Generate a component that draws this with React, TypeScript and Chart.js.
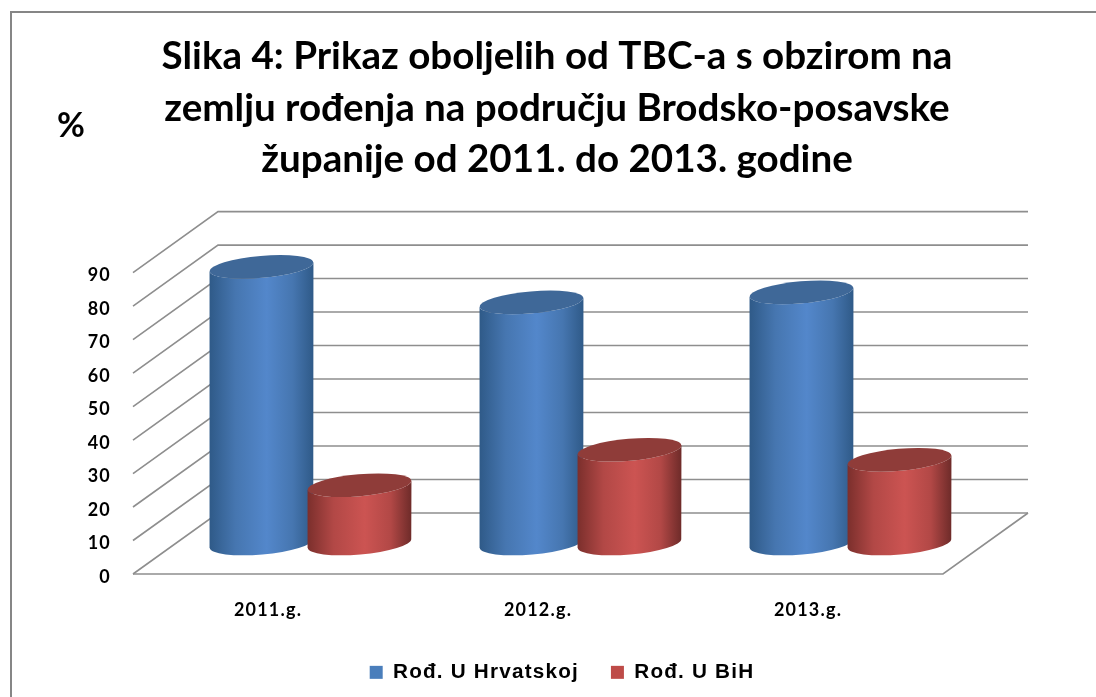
import React, { useEffect, useRef } from "react";
import { Chart, registerables } from "chart.js";

Chart.register(...registerables);

const titleLines = [
  "Slika 4: Prikaz oboljelih od TBC-a s obzirom na",
  "zemlju rođenja na području Brodsko-posavske",
  "županije od 2011. do 2013. godine",
];
const yAxisCaption = "%";
const categories = ["2011.g.", "2012.g.", "2013.g."];
const seriesHrvatska = [82.6, 72, 75];
const seriesBiH = [17.4, 28, 25];
const seriesNames = ["Rođ. U Hrvatskoj", "Rođ. U BiH"];

const DEPTH_X = 85;
const DEPTH_Y = -61;
const GRID = "#8e8e8e";
const LABEL_FONT = "Lato";
const LEGEND_FONT = "'Liberation Sans'";
const SPACING = "1.2px";

const shades = [
  { edgeL: "#2f5a88", near: "#4676b0", mid: "#5387cb", edgeR: "#2f5a88", top: "#3f6898" },
  { edgeL: "#7b2f2c", near: "#b24846", mid: "#cc5452", edgeR: "#6e2b29", top: "#8f3c39" },
];

function cylinder(ctx: CanvasRenderingContext2D, cx: number, yTop: number, yBase: number, rx: number, c: typeof shades[0]) {
  const ry = 11;
  const rot = -0.087;
  const dy = Math.sin(rot) * rx;
  const g = ctx.createLinearGradient(cx - rx, 0, cx + rx, 0);
  g.addColorStop(0, c.edgeL);
  g.addColorStop(0.25, c.near);
  g.addColorStop(0.55, c.mid);
  g.addColorStop(0.8, c.near);
  g.addColorStop(1, c.edgeR);
  ctx.beginPath();
  ctx.moveTo(cx - rx, yTop - dy);
  ctx.lineTo(cx - rx, yBase - dy);
  ctx.ellipse(cx, yBase, rx, ry, rot, Math.PI, 0, true);
  ctx.lineTo(cx + rx, yTop + dy);
  ctx.ellipse(cx, yTop, rx, ry, rot, 0, Math.PI, false);
  ctx.closePath();
  ctx.fillStyle = g;
  ctx.fill();
  ctx.beginPath();
  ctx.ellipse(cx, yTop, rx, ry, rot, 0, Math.PI * 2);
  ctx.fillStyle = c.top;
  ctx.fill();
}

const scene = {
  id: "scene3d",
  beforeLayout(chart: any) {
    chart.ctx.letterSpacing = SPACING;
  },
  afterLayout(chart: any) {
    const t = chart.titleBlock;
    t.left += 9;
    t.right += 9;
    if (!t.__wrapped) {
      t.__wrapped = true;
      const draw = t.draw.bind(t);
      t.draw = () => {
        chart.ctx.letterSpacing = "0px";
        draw();
        chart.ctx.letterSpacing = SPACING;
      };
    }
    chart.legend.top = 697 - 26 - 20 - chart.options.plugins.legend.labels.padding + 11;
    chart.legend.left += 14;
    chart.legend.right += 14;
  },
  beforeDraw(chart: any) {
    const { ctx } = chart;
    ctx.save();
    ctx.fillStyle = "#fff";
    ctx.fillRect(0, 0, chart.width, chart.height);
    ctx.strokeStyle = "#868686";
    ctx.lineWidth = 2;
    ctx.beginPath();
    ctx.moveTo(11, chart.height + 2);
    ctx.lineTo(11, 12);
    ctx.lineTo(chart.width + 2, 12);
    ctx.stroke();
    ctx.fillStyle = "#000";
    ctx.font = "bold 34px Lato";
    ctx.letterSpacing = "0px";
    ctx.textAlign = "center";
    ctx.textBaseline = "middle";
    ctx.fillText(yAxisCaption, 71, 126);
    ctx.restore();
  },
  beforeDatasetsDraw(chart: any) {
    const { ctx, chartArea: a, scales } = chart;
    const y = scales.y;
    ctx.save();
    ctx.strokeStyle = GRID;
    ctx.lineWidth = 1.6;
    y.ticks.forEach((t: any) => {
      const py = y.getPixelForValue(t.value);
      ctx.beginPath();
      ctx.moveTo(a.left, py);
      ctx.lineTo(a.left + DEPTH_X, py + DEPTH_Y);
      ctx.lineTo(a.right + DEPTH_X, py + DEPTH_Y);
      ctx.stroke();
    });
    ctx.beginPath();
    ctx.moveTo(a.left, a.bottom);
    ctx.lineTo(a.right, a.bottom);
    ctx.lineTo(a.right + DEPTH_X, a.bottom + DEPTH_Y);
    ctx.stroke();
    ctx.restore();
  },
  beforeDatasetDraw() {
    return false;
  },
  afterDatasetsDraw(chart: any) {
    const { ctx } = chart;
    ctx.save();
    chart.data.datasets.forEach((_: any, i: number) => {
      chart.getDatasetMeta(i).data.forEach((bar: any) => {
        const p = bar.getProps(["x", "y", "base", "width"], true);
        cylinder(ctx, p.x + DEPTH_X / 2, p.y + DEPTH_Y / 2, p.base + DEPTH_Y / 2, (p.width * 1.06) / 2, shades[i]);
      });
    });
    ctx.restore();
  },
};

export default function App() {
  const ref = useRef<HTMLCanvasElement>(null);
  useEffect(() => {
    const chart = new Chart(ref.current!, {
      type: "bar",
      data: {
        labels: categories,
        datasets: [
          { label: seriesNames[0], data: seriesHrvatska, backgroundColor: "#4a7ebb" },
          { label: seriesNames[1], data: seriesBiH, backgroundColor: "#be4b48" },
        ],
      },
      options: {
        responsive: false,
        animation: false,
        events: [],
        categoryPercentage: 0.726,
        barPercentage: 1,
        layout: { padding: { bottom: 0 } },
        scales: {
          x: {
            grid: { display: false },
            border: { display: false },
            ticks: { color: "#000", font: { family: LABEL_FONT, weight: "bold", size: 18 }, padding: 17 },
            afterFit(s: any) {
              s.height = 697 - 574 - (s.chart.legend?.height ?? 0);
            },
          },
          y: {
            min: 0,
            max: 90,
            grid: { display: false },
            border: { display: false },
            ticks: { stepSize: 10, color: "#000", font: { family: LABEL_FONT, weight: "bold", size: 18 }, padding: 14, labelOffset: 3 },
            afterFit(s: any) { s.width = 133; },
          },
          yr: {
            position: "right",
            grid: { display: false },
            border: { display: false },
            ticks: { display: false },
            afterFit(s: any) { s.width = 153; },
          },
        },
        plugins: {
          tooltip: { enabled: false },
          title: {
            display: true,
            text: titleLines,
            color: "#000",
            font: { family: "Lato", weight: "bold", size: 38.6, lineHeight: 1.335 },
            padding: { top: 31, bottom: 87 },
          },
          legend: {
            position: "bottom",
            labels: {
              color: "#000",
              font: { family: LEGEND_FONT, weight: "bold", size: 20.7 },
              boxWidth: 13,
              boxHeight: 13,
              padding: 32,
            },
          },
        },
      } as any,
      plugins: [scene],
    });
    return () => chart.destroy();
  }, []);
  return <canvas ref={ref} width={1096} height={697} style={{ position: "fixed", left: 0, top: 0, display: "block" }} />;
}
